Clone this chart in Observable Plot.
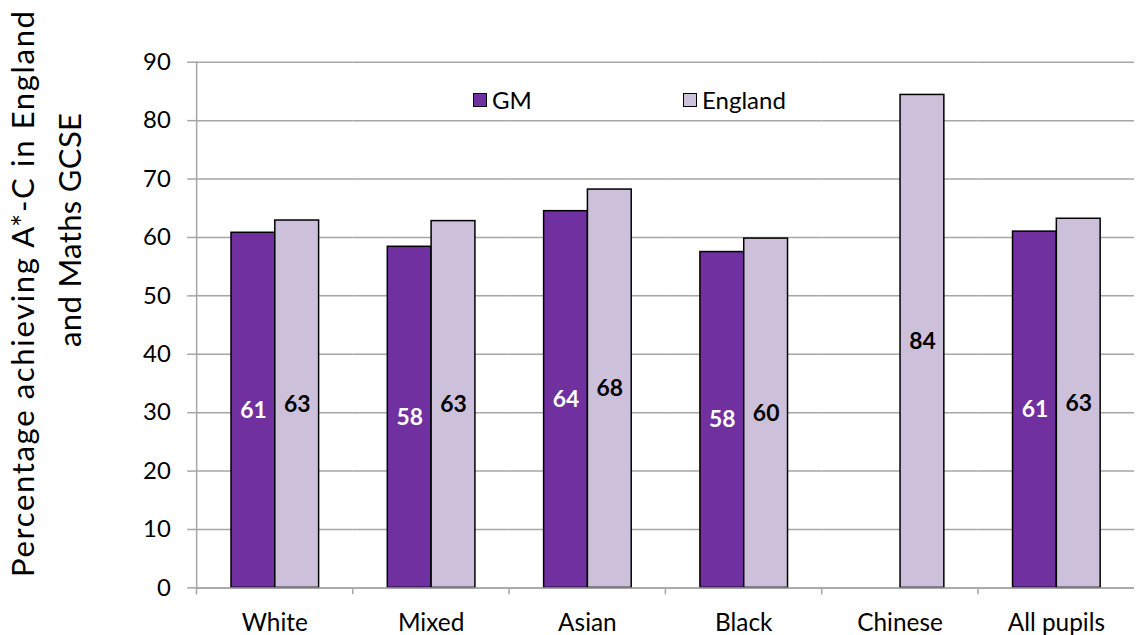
<!DOCTYPE html>
<html><head><meta charset="utf-8">
<script src="https://cdn.jsdelivr.net/npm/d3@7"></script>
<script src="https://cdn.jsdelivr.net/npm/@observablehq/plot@0.6"></script>
<style>
html,body{margin:0;padding:0;background:#fff;overflow:hidden;}
#wrap{position:relative;width:1136px;height:635px;overflow:hidden;background:#fff;}
#chart{position:absolute;left:0;top:0;}
.legend{position:absolute;top:86px;font-family:Lato,sans-serif;font-size:24px;display:flex;align-items:center;color:#000;line-height:28px;}
.sw{width:14px;height:14px;border:1px solid #000;margin-right:5px;box-sizing:border-box;}
#ytitle{position:absolute;left:0;top:0;}
</style></head><body>
<div id="wrap"><div id="chart"></div>
<div class="legend" style="left:473px"><span class="sw" style="background:#7030a0"></span>GM</div>
<div class="legend" style="left:683px"><span class="sw" style="background:#ccc0da"></span>England</div>
<svg id="ytitle" width="120" height="635" font-family="Lato, sans-serif" font-size="31" fill="#000">
<text text-anchor="middle" textLength="566" lengthAdjust="spacing" transform="translate(34,294) rotate(-90)">Percentage achieving A*-C in England</text>
<text text-anchor="middle" textLength="234" lengthAdjust="spacing" transform="translate(81,230) rotate(-90)">and Maths GCSE</text>
</svg>
</div>
<script>
const categories = ["White", "Mixed", "Asian", "Black", "Chinese", "All pupils"];
const series = ["GM", "England"];
const gmValues = [60.8, 58.4, 64.5, 57.5, null, 61.0];
const englandValues = [62.9, 62.8, 68.2, 59.8, 84.4, 63.2];
const gmLabels = ["61", "58", "64", "58", "", "61"];
const englandLabels = ["63", "63", "68", "60", "84", "63"];
const yTicks = [0, 10, 20, 30, 40, 50, 60, 70, 80, 90];

const gmRows = categories.map((c, i) => ({cat: c, series: "GM", value: gmValues[i], label: gmLabels[i]})).filter(d => d.value != null);
const enRows = categories.map((c, i) => ({cat: c, series: "England", value: englandValues[i], label: englandLabels[i]}));
const rows = gmRows.concat(enRows);

const W = 1141, H = 635, mL = 196, mR = 1, mT = 62, mB = 45;
const band = (W - mL - mR) / categories.length;
const grey = "#a6a6a6";

const chart = Plot.plot({
  width: W, height: H,
  marginLeft: mL, marginRight: mR, marginTop: mT, marginBottom: mB,
  style: {fontFamily: "Lato, sans-serif", fontSize: "24px", color: "#000", background: "transparent", overflow: "visible"},
  fx: {domain: categories, padding: 0, label: null},
  x: {domain: series, paddingInner: 0, paddingOuter: 0.75, axis: null},
  y: {domain: [0, 90], label: null},
  color: {domain: series, range: ["#7030a0", "#ccc0da"]},
  marks: [
    Plot.gridY(yTicks, {stroke: grey, strokeOpacity: 1, strokeWidth: 1.5}),
    Plot.barY(rows, {fx: "cat", x: "series", y: "value", fill: "series", stroke: "#000", strokeWidth: 1.5}),
    Plot.text(gmRows, {fx: "cat", x: "series", y: d => d.value / 2, text: "label", fill: "#fff", fontWeight: "bold", fontSize: 23}),
    Plot.text(enRows, {fx: "cat", x: "series", y: d => d.value / 2, text: "label", fill: "#000", fontWeight: "bold", fontSize: 23}),
    Plot.ruleY([0], {stroke: grey, strokeWidth: 1.5}),
    Plot.frame({anchor: "left", facetAnchor: "left", stroke: grey, strokeWidth: 1.5}),
    Plot.axisY(yTicks, {tickSize: 9, tickPadding: 17, stroke: grey, strokeWidth: 1.5, fill: "#000", fontSize: 24, tickFormat: d => String(d), label: null}),
    Plot.axisFx({anchor: "bottom", tickSize: 0, tickPadding: 26, fontSize: 24.5, fill: "#000", label: null}),
    Plot.axisFx({anchor: "bottom", tickSize: 7, dx: -band / 2, stroke: grey, strokeWidth: 1.5, tickFormat: () => "", label: null})
  ]
});
document.getElementById("chart").appendChild(chart);
</script>
</body></html>
